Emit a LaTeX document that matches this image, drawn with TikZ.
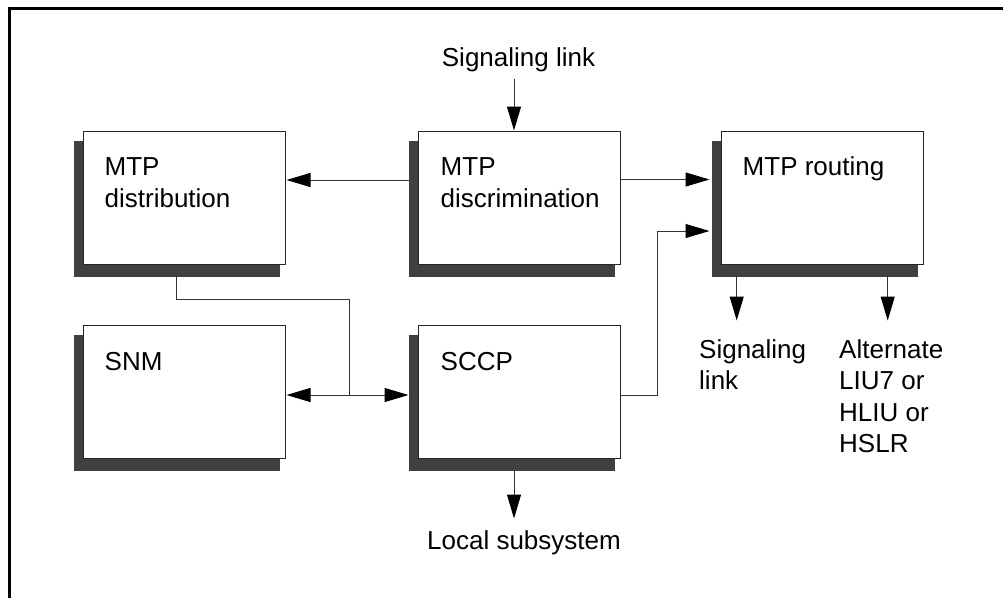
\documentclass[tikz,border=0pt]{standalone}
\usepackage{fontspec}
\setmainfont{Liberation Sans}
\usetikzlibrary{arrows.meta,calc,backgrounds}
\definecolor{shadowc}{HTML}{404040}
\begin{document}
\begin{tikzpicture}[x=1pt,y=-1pt,
  box/.style={draw=black!85,line width=1pt,fill=white,minimum width=202pt,minimum height=133pt,inner sep=0pt},
  lbl/.style={font=\fontsize{26}{31.5}\selectfont,inner sep=0pt,align=left},
  conn/.style={draw=black!80,line width=1pt},
  arr/.style={conn,-{Triangle[length=24pt,width=14pt,black]}}]
\useasboundingbox (0,0) rectangle (1003,598);
\draw[line width=3pt,line join=miter] (9.5,598) -- (9.5,8.5) -- (1003,8.5);
% boxes
\node[box] (dist) at (184,197.5) {};
\node[box] (disc) at (519,197.5) {};
\node[box] (rout) at (822,197.5) {};
\node[box] (snm)  at (184,391.5) {};
\node[box] (sccp) at (519,391.5) {};
\begin{scope}[on background layer]
\foreach \n in {dist,disc,rout,snm,sccp}
  \fill[shadowc] ($(\n.north west)+(-9,10)$) rectangle ($(\n.south east)+(-6,12)$);
\end{scope}
% box labels (base anchor = baseline of the last line)
\node[lbl,anchor=base west] (tdist) at ($(dist.north west)+(22,76.5)$) {MTP\\distribution};
\node[lbl,anchor=base west] (tdisc) at ($(disc.north west)+(23,76.5)$) {MTP\\discrimination};
\node[lbl,anchor=base west] (trout) at ($(rout.north west)+(22,45)$) {MTP routing};
\node[lbl,anchor=base west] (tsnm)  at ($(snm.north west)+(22,46)$) {SNM};
\node[lbl,anchor=base west] (tsccp) at ($(sccp.north west)+(23,46)$) {SCCP};
% outside labels
\node[lbl,anchor=base] (sl) at (518.5,66) {Signaling link};
\node[lbl,anchor=base west] (sl2) at (699,389.5) {Signaling\\link};
\node[lbl,anchor=base west] (alt) at (839,452.5) {Alternate\\LIU7 or\\HLIU or\\HSLR};
\node[lbl,anchor=base] (loc) at (524,549) {Local subsystem};
% connectors
\draw[arr] ($(sl.base)+(-4.5,13)$) -- ($(disc.north)+(-5,0)$);
\draw[arr] ($(disc.west)+(-9,-17.5)$) -- ($(dist.east)+(1,-17.5)$);
\draw[arr] ($(disc.east)+(0,-18)$) -- ($(rout.west)+(-11,-18)$);
\draw[arr] ($(sccp.east)+(0,3.5)$) -- ++(37,0) |- ($(rout.west)+(-11,33.5)$);
\coordinate (j) at (349,395);
\draw[conn] ($(dist.south)+(-8,11)$) -- ++(0,24) -| (j);
\draw[arr] (j) -- ($(snm.east)+(1,3.5)$);
\draw[arr] (j) -- ($(sccp.west)+(-9,3.5)$);
\draw[arr] ($(sccp.south)+(-5,12)$) -- ++(0,48);
\draw[arr] ($(rout.south)+(-85.3,11)$) -- ++(0,45);
\draw[arr] ($(rout.south)+(65.7,11)$) -- ++(0,45);
\end{tikzpicture}
\end{document}
